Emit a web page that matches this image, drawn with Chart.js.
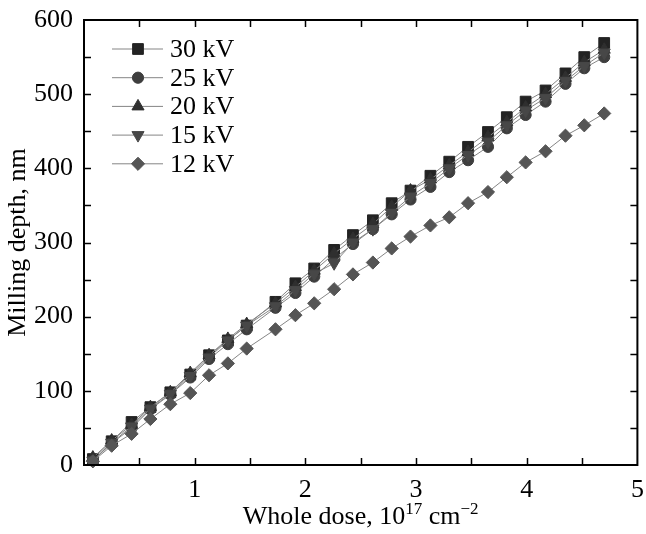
<!DOCTYPE html>
<html>
<head>
<meta charset="utf-8">
<script src="https://cdn.jsdelivr.net/npm/chart.js@4.4.1/dist/chart.umd.min.js"></script>
<style>
  html, body { margin:0; padding:0; background:#fff; }
  #wrap { width:646px; height:534px; }
</style>
</head>
<body>
<div id="wrap"><canvas id="chart-fresado" width="646" height="534"></canvas></div>
<script>
/* profundidad de fresado vs dosis — FIB */

// Dosis total, 10^17 cm^-2
const DOSIS = [0.08, 0.25, 0.43, 0.60, 0.78, 0.96, 1.13, 1.30, 1.47, 1.73, 1.91, 2.08, 2.26, 2.43,
               2.61, 2.78, 2.95, 3.13, 3.30, 3.47, 3.65, 3.82, 3.99, 4.17, 4.35, 4.52, 4.70];

// Profundidad, nm
const PROF_30KV = [8, 32, 58, 78, 98, 122, 148, 168, 188, 220, 245, 265, 290, 310,
                   330, 353, 370, 390, 409, 429, 449, 469, 490, 505, 528, 550, 569];
const PROF_25KV = [6, 29, 50, 75, 95, 118, 143, 163, 183, 212, 232, 254, 278, 298,
                   318, 338, 358, 375, 395, 411, 429, 454, 472, 490, 514, 535, 550];
const PROF_20KV = [10, 33, 54, 78, 98, 124, 148, 170, 190, 218, 240, 262, 285, 305,
                   325, 348, 370, 385, 404, 422, 442, 462, 482, 500, 522, 543, 560];
const PROF_15KV = [6, 30, 52, 76, 96, 120, 145, 168, 188, 214, 236, 258, 272, 300,
                   318, 340, 362, 380, 400, 418, 436, 458, 478, 495, 518, 538, 556];
const PROF_12KV = [5, 26, 42, 62, 82, 97, 121, 137, 157, 183, 202, 218, 237, 257,
                   273, 292, 308, 323, 334, 353, 368, 388, 408, 423, 444, 458, 474];

const SERIES   = ['30 kV', '25 kV', '20 kV', '15 kV', '12 kV'];
const TICKS_X  = [1, 2, 3, 4, 5];
const TICKS_Y  = [0, 100, 200, 300, 400, 500, 600];

const FUENTE = "'Liberation Serif', 'Times New Roman', serif";

const ESTILOS = [
  { color: '#232323', forma: 'rect',     radio: 7.6, rot: 0 },
  { color: '#3e3e3e', forma: 'circle',   radio: 5.6, rot: 0 },
  { color: '#2f2f2f', forma: 'triangle', radio: 7,   rot: 0 },
  { color: '#474747', forma: 'triangle', radio: 7,   rot: 180 },
  { color: '#555555', forma: 'rectRot',  radio: 6.6, rot: 0 },
];

const valores = [PROF_30KV, PROF_25KV, PROF_20KV, PROF_15KV, PROF_12KV];

const datasets = SERIES.map((nombre, i) => ({
  label: nombre,
  data: DOSIS.map((d, j) => ({ x: d, y: valores[i][j] })),
  borderColor: '#858585',
  borderWidth: 1,
  pointStyle: ESTILOS[i].forma,
  pointRadius: ESTILOS[i].radio,
  pointRotation: ESTILOS[i].rot,
  pointBackgroundColor: ESTILOS[i].color,
  pointBorderColor: ESTILOS[i].color,
  pointBorderWidth: 1,
  tension: 0,
  clip: false,
  order: SERIES.length - i,
}));

// Marco con ticks hacia adentro en los cuatro lados
const marcoPlugin = {
  id: 'marco',
  afterDatasetsDraw(chart) {
    const { ctx, chartArea: a, scales: { x, y } } = chart;
    const largo = 7;
    ctx.save();
    ctx.strokeStyle = '#000';
    ctx.lineWidth = 1.5;
    ctx.beginPath();
    x.ticks.forEach(t => {
      if (t.value <= x.min || t.value >= x.max) return;
      const px = Math.round(x.getPixelForValue(t.value)) + 0.5;
      ctx.moveTo(px, a.bottom); ctx.lineTo(px, a.bottom - largo);
      ctx.moveTo(px, a.top);    ctx.lineTo(px, a.top + largo);
    });
    y.ticks.forEach(t => {
      if (t.value <= y.min || t.value >= y.max) return;
      const py = Math.round(y.getPixelForValue(t.value)) + 0.5;
      ctx.moveTo(a.left, py);  ctx.lineTo(a.left + largo, py);
      ctx.moveTo(a.right, py); ctx.lineTo(a.right - largo, py);
    });
    ctx.stroke();
    ctx.lineWidth = 2;
    ctx.strokeRect(a.left, a.top, a.right - a.left, a.bottom - a.top);
    ctx.restore();
  }
};

// Leyenda: segmento de línea con el marcador al centro
function dibujarMarcador(ctx, ds, cx, cy) {
  const opts = { pointStyle: ds.pointStyle, radius: ds.pointRadius, rotation: ds.pointRotation, borderWidth: 1 };
  if (Chart.helpers && Chart.helpers.drawPoint) {
    Chart.helpers.drawPoint(ctx, opts, cx, cy);
  } else {
    ctx.beginPath();
    ctx.arc(cx, cy, ds.pointRadius, 0, Math.PI * 2);
    ctx.fill(); ctx.stroke();
  }
}

const leyendaPlugin = {
  id: 'leyenda',
  afterDraw(chart) {
    const { ctx } = chart;
    const x0 = 112, x1 = 163, xm = 138, xt = 170;
    ctx.save();
    chart.data.datasets.forEach((ds, i) => {
      const cy = 49 + i * 28.7;
      ctx.strokeStyle = ds.borderColor;
      ctx.lineWidth = 1;
      ctx.beginPath();
      ctx.moveTo(x0, cy); ctx.lineTo(x1, cy);
      ctx.stroke();
      ctx.fillStyle = ds.pointBackgroundColor;
      ctx.strokeStyle = ds.pointBorderColor;
      dibujarMarcador(ctx, ds, xm, cy);
      ctx.fillStyle = '#000';
      ctx.font = `26px ${FUENTE}`;
      ctx.textAlign = 'left';
      ctx.textBaseline = 'middle';
      ctx.fillText(ds.label, xt, cy + 1);
    });
    ctx.restore();
  }
};

// Título del eje x con superíndices
const tituloXPlugin = {
  id: 'tituloX',
  afterDraw(chart) {
    const { ctx, chartArea: a } = chart;
    const partes = [
      { t: 'Whole dose, 10', sup: false },
      { t: '17', sup: true },
      { t: ' cm', sup: false },
      { t: '\u22122', sup: true },
    ];
    const fN = `26px ${FUENTE}`, fS = `17px ${FUENTE}`;
    let ancho = 0;
    partes.forEach(p => { ctx.font = p.sup ? fS : fN; p.w = ctx.measureText(p.t).width; ancho += p.w; });
    let x = (a.left + a.right) / 2 - ancho / 2;
    const base = 524;
    ctx.save();
    ctx.fillStyle = '#000';
    ctx.textAlign = 'left';
    ctx.textBaseline = 'alphabetic';
    partes.forEach(p => {
      ctx.font = p.sup ? fS : fN;
      ctx.fillText(p.t, x, p.sup ? base - 10 : base);
      x += p.w;
    });
    ctx.restore();
  }
};

new Chart(document.getElementById('chart-fresado'), {
  type: 'line',
  data: { datasets },
  options: {
    responsive: false,
    animation: false,
    devicePixelRatio: 1,
    layout: { padding: { left: 0, right: 8, top: 20, bottom: 0 } },
    plugins: { legend: { display: false }, tooltip: { enabled: false } },
    scales: {
      x: {
        type: 'linear',
        min: 0, max: 5,
        grid: { display: false, drawTicks: false },
        border: { display: false },
        ticks: {
          stepSize: 0.5,
          autoSkip: false,
          maxRotation: 0,
          padding: 10,
          color: '#000',
          font: { family: FUENTE, size: 26 },
          callback: v => TICKS_X.includes(v) ? String(v) : '',
        },
        afterFit(scale) {
          scale.height = 69;
          scale.paddingLeft = 0;
          scale.paddingRight = 0;
        },
      },
      y: {
        min: 0, max: 600,
        grid: { display: false, drawTicks: false },
        border: { display: false },
        ticks: {
          stepSize: 50,
          autoSkip: false,
          padding: 11,
          color: '#000',
          font: { family: FUENTE, size: 26 },
          callback: v => TICKS_Y.includes(v) ? String(v) : '',
        },
        title: {
          display: true,
          text: 'Milling depth, nm',
          color: '#000',
          font: { family: FUENTE, size: 26 },
          padding: { top: 3, bottom: 0 },
        },
        afterFit(scale) {
          scale.width = 84;
          scale.paddingTop = 0;
          scale.paddingBottom = 0;
        },
      }
    }
  },
  plugins: [marcoPlugin, leyendaPlugin, tituloXPlugin]
});
</script>
</body>
</html>
